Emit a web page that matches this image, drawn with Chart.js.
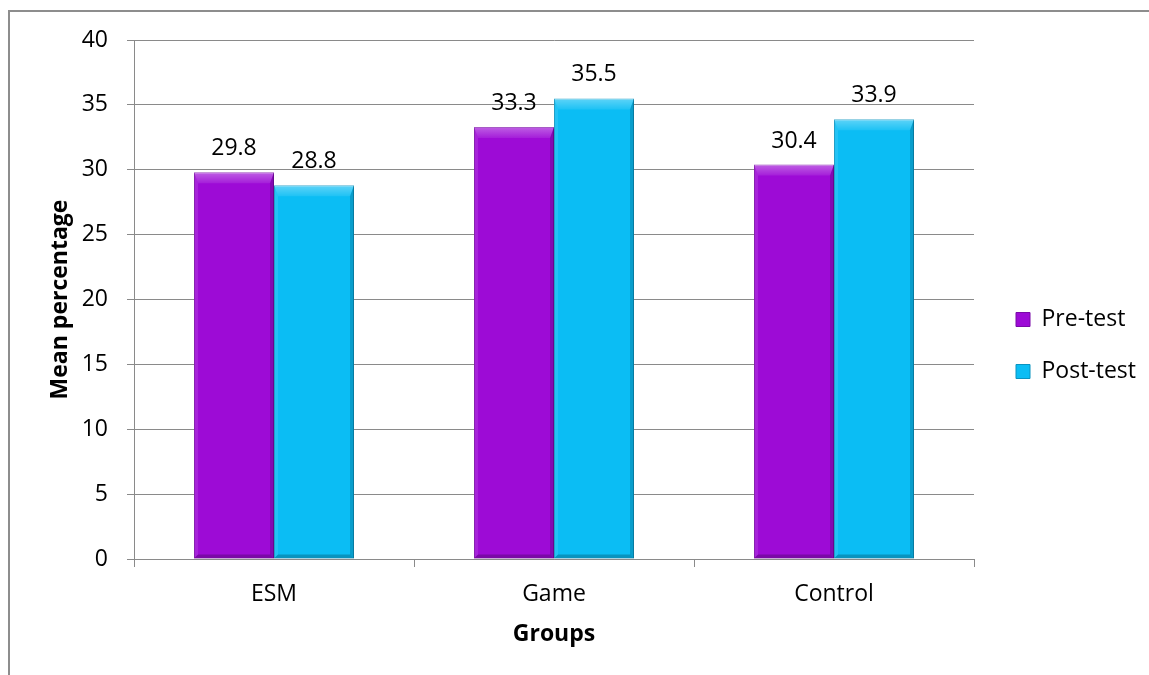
<!DOCTYPE html>
<html>
<head>
<meta charset="utf-8">
<script src="https://cdn.jsdelivr.net/npm/chart.js@4"></script>
<style>
  html, body { margin: 0; padding: 0; background: #fff; overflow: hidden; }
  #wrap { position: relative; width: 1149px; height: 675px; }
  #frame { position: absolute; left: 8px; top: 10px; width: 1200px; height: 700px;
           border-left: 2px solid #8d8d8d; border-top: 2px solid #8d8d8d; }
  #chart { position: absolute; left: 0; top: 0; }
</style>
</head>
<body>
<div id="wrap">
  <div id="frame"></div>
  <canvas id="chart" width="1149" height="675"></canvas>
</div>
<script>
// data
const groups = ['ESM', 'Game', 'Control'];
const preTest = [29.8, 33.3, 30.4];
const postTest = [28.8, 35.5, 33.9];
const seriesNames = ['Pre-test', 'Post-test'];
const yTicks = [0, 5, 10, 15, 20, 25, 30, 35, 40];

const FONT = '"Open Sans", "Noto Sans", sans-serif';
const FS = 23;
const GRID = '#8a8a8a';

Chart.defaults.font.family = FONT;
Chart.defaults.font.size = FS;
Chart.defaults.color = '#000';

// bevel look of the bars, taken from each bar element
const bevel = {
    id: 'bevel',
    afterDatasetsDraw(chart) {
        const ctx = chart.ctx;
        ctx.save();
        chart.data.datasets.forEach((ds, i) => {
            chart.getDatasetMeta(i).data.forEach(bar => {
                const l = bar.x - bar.width / 2, r = bar.x + bar.width / 2;
                const t = bar.y, b = bar.base;
                const s = 4, tb = 11;
                const poly = (pts, fill) => {
                    ctx.beginPath();
                    ctx.moveTo(pts[0][0], pts[0][1]);
                    pts.slice(1).forEach(p => ctx.lineTo(p[0], p[1]));
                    ctx.closePath();
                    ctx.fillStyle = fill;
                    ctx.fill();
                };
                const g = ctx.createLinearGradient(0, t, 0, t + tb);
                g.addColorStop(0, 'rgba(255,255,255,0.35)');
                g.addColorStop(1, 'rgba(255,255,255,0.08)');
                poly([[l, t], [r, t], [r - s, t + tb], [l + s, t + tb]], g);
                poly([[l, t], [l + s, t + tb], [l + s, b - s], [l, b]], 'rgba(255,255,255,0.10)');
                poly([[r, t], [r - s, t + tb], [r - s, b - s], [r, b]], 'rgba(0,0,0,0.16)');
                poly([[l, b], [l + s, b - s], [r - s, b - s], [r, b]], 'rgba(0,0,0,0.22)');
            });
        });
        ctx.restore();
    }
};

// value labels above the bars
const valueLabels = {
    id: 'valueLabels',
    afterDatasetsDraw(chart) {
        const ctx = chart.ctx;
        ctx.save();
        ctx.font = FS + 'px ' + FONT;
        ctx.fillStyle = '#000';
        ctx.textAlign = 'center';
        ctx.textBaseline = 'alphabetic';
        chart.data.datasets.forEach((ds, i) => {
            chart.getDatasetMeta(i).data.forEach((bar, j) => {
                ctx.fillText(ds.data[j].toFixed(1), bar.x, bar.y - 17);
            });
        });
        ctx.restore();
    }
};

new Chart(document.getElementById('chart'), {
    type: 'bar',
    data: {
        labels: groups,
        datasets: [{
            label: seriesNames[0],
            data: preTest,
            backgroundColor: '#9d0bd6',
            borderColor: '#7a0aa8',
            borderWidth: 1
        }, {
            label: seriesNames[1],
            data: postTest,
            backgroundColor: '#0bbdf4',
            borderColor: '#0a93c0',
            borderWidth: 1
        }]
    },
    options: {
        responsive: false,
        animation: false,
        layout: { padding: { top: 40, left: 0, right: 12, bottom: 24 } },
        datasets: {
            bar: { categoryPercentage: 160 / 280, barPercentage: 1 }
        },
        plugins: {
            legend: {
                position: 'right',
                align: 'center',
                maxWidth: 150,
                labels: {
                    boxWidth: 14,
                    boxHeight: 14,
                    padding: 29,
                    font: { size: FS },
                    color: '#000'
                }
            },
            tooltip: { enabled: false }
        },
        scales: {
            x: {
                grid: {
                    display: true,
                    drawOnChartArea: false,
                    drawTicks: true,
                    tickLength: 8,
                    offset: true,
                    color: GRID
                },
                border: { display: true, color: GRID, width: 1 },
                ticks: { padding: 14, font: { size: FS }, color: '#000' },
                title: {
                    display: true,
                    text: 'Groups',
                    font: { size: FS, weight: 'bold' },
                    color: '#000',
                    padding: { top: 0, bottom: 3 }
                },
                afterFit(s) { s.height = 675 - 24 - 559; }
            },
            y: {
                min: 0,
                max: 40,
                afterBuildTicks(s) { s.ticks = yTicks.map(v => ({ value: v })); },
                grid: { color: GRID, tickLength: 7, drawTicks: true },
                border: { display: true, color: GRID, width: 1 },
                ticks: { padding: 19, font: { size: FS }, color: '#000' },
                title: {
                    display: true,
                    text: 'Mean percentage',
                    font: { size: FS, weight: 'bold' },
                    color: '#000',
                    padding: { top: 47, bottom: 0 }
                },
                afterFit(s) { s.width = 134; }
            },
            gap: {
                type: 'linear',
                position: 'right',
                display: true,
                grid: { display: false, drawTicks: false },
                border: { display: false },
                ticks: { display: false },
                afterFit(s) { s.width = 13; }
            }
        }
    },
    plugins: [bevel, valueLabels]
});
</script>
</body>
</html>
